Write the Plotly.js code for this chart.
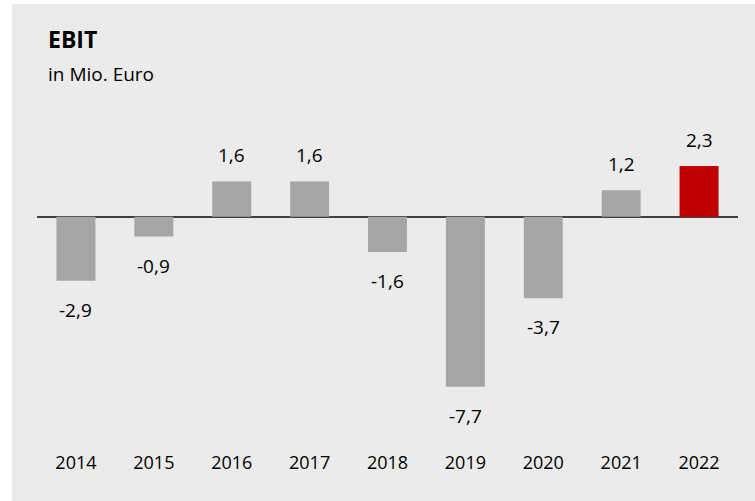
<!DOCTYPE html>
<html>
<head>
<meta charset="utf-8">
<script src="https://cdn.plot.ly/plotly-3.0.1.min.js"></script>
<style>html,body{margin:0;padding:0;background:#fff;}#chart{width:755px;height:501px;}</style>
</head>
<body>
<div id="chart"></div>
<script>
const years = ['2014','2015','2016','2017','2018','2019','2020','2021','2022'];
const ebit = [-2.9, -0.9, 1.6, 1.6, -1.6, -7.7, -3.7, 1.2, 2.3];
const barColors = ['#a5a5a5','#a5a5a5','#a5a5a5','#a5a5a5','#a5a5a5','#a5a5a5','#a5a5a5','#a5a5a5','#c00000'];
const titleText = 'EBIT';
const subtitleText = 'in Mio. Euro';

const FONT = 'Open Sans, sans-serif';
const fmt = v => v.toFixed(1).replace('.', ',');
const idx = years.map((_, i) => i);

const valueAnnotations = idx.map(i => ({
  x: i, y: ebit[i], xref: 'x', yref: 'y',
  text: fmt(ebit[i]), showarrow: false,
  yanchor: 'middle', xanchor: 'center',
  yshift: ebit[i] >= 0 ? 26 : -29,
  font: {family: FONT, size: 19, color: '#000'}
}));

const layout = {
  width: 755, height: 501,
  margin: {l: 37, r: 17, t: 100, b: 51, pad: 0},
  paper_bgcolor: '#ffffff',
  plot_bgcolor: 'rgba(0,0,0,0)',
  showlegend: false,
  bargap: 0.5,
  xaxis: {
    type: 'linear', range: [-0.5, years.length - 0.5],
    tickmode: 'array', tickvals: idx, ticktext: years,
    showgrid: false, zeroline: false, showline: false,
    ticks: '', tickfont: {family: FONT, size: 18, color: '#000'},
    fixedrange: true
  },
  yaxis: {
    type: 'linear', range: [-10.571, 5.288], showgrid: false, showticklabels: false,
    zeroline: true, zerolinecolor: '#404040', zerolinewidth: 1.7,
    showline: false, ticks: '', fixedrange: true
  },
  shapes: [{
    type: 'rect', xref: 'paper', yref: 'paper', layer: 'below',
    x0: -0.03566, x1: 1.0243, y0: -0.1457, y1: 1.2743,
    fillcolor: '#ebebeb', line: {width: 0}
  }],
  annotations: [
    {text: '<b>' + titleText + '</b>', xref: 'paper', yref: 'paper', x: 0.0128, y: 1.1743,
     xanchor: 'left', yanchor: 'middle', showarrow: false,
     font: {family: FONT, size: 23, color: '#000'}},
    {text: subtitleText, xref: 'paper', yref: 'paper', x: 0.0128, y: 1.0757,
     xanchor: 'left', yanchor: 'middle', showarrow: false,
     font: {family: FONT, size: 19, color: '#000'}}
  ].concat(valueAnnotations)
};

const trace = {
  type: 'bar', x: idx, y: ebit, width: 0.5,
  marker: {color: barColors, line: {width: 0}},
  hoverinfo: 'skip'
};

Plotly.newPlot('chart', [trace], layout, {displayModeBar: false, staticPlot: true});
</script>
</body>
</html>
